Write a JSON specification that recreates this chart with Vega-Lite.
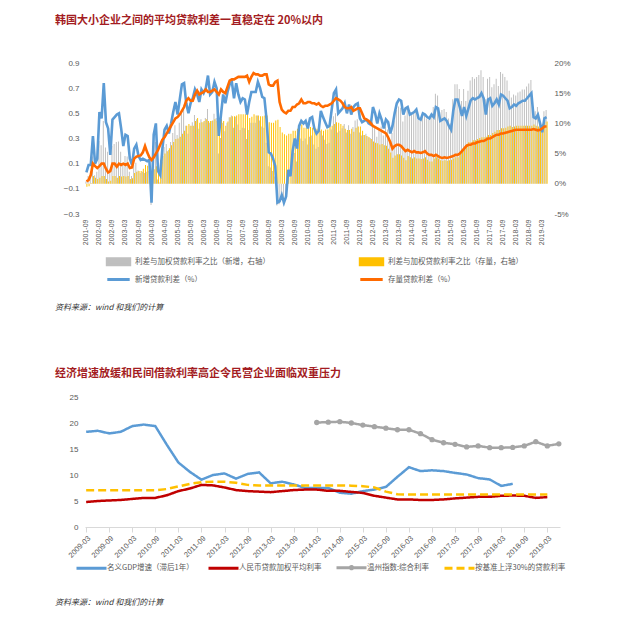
{
"$schema":"https://vega.github.io/schema/vega-lite/v6.json",
"background":"white",
"padding":{"left":55,"top":15,"right":5,"bottom":5},
"spacing":18,
"resolve":{"scale":{"color":"independent","strokeDash":"independent"},"legend":{"color":"independent","strokeDash":"independent"}},
"config":{
 "view":{"stroke":null},
 "font":"Noto Sans CJK SC",
 "axis":{"grid":false,"labelColor":"#595959","labelFont":"Liberation Sans","labelFontSize":8},
 "legend":{"layout":{"bottom":{"anchor":"middle"}}}
},
"title":{"text":"资料来源：wind 和我们的计算","orient":"bottom","anchor":"start","frame":"bounds","fontSize":8,"fontStyle":"italic","fontWeight":"normal","color":"#333333","offset":24,"font":"Noto Sans CJK SC"},
"vconcat":[
{
 "name":"p1",
 "width":463,"height":151,
 "title":{"text":"韩国大小企业之间的平均贷款利差一直稳定在 20%以内","anchor":"start","frame":"group","dx":-30,"offset":33,"fontSize":11,"fontWeight":"bold","color":"#A31C22","font":"Noto Sans CJK SC"},
 "data":{"values":[
{"d":"2001-09","b":0.03,"o":-0.04,"g":0.4,"s":-0.5},
{"d":"2001-10","b":0.09,"o":-0.03,"g":1.3,"s":-0.4},
{"d":"2001-11","b":0.09,"o":0.01,"g":1.3,"s":0.1},
{"d":"2001-12","b":0.32,"o":0.10,"g":4.5,"s":1.3},
{"d":"2002-01","b":0.10,"o":0.08,"g":1.4,"s":1.0},
{"d":"2002-02","b":0.14,"o":0.065,"g":2.0,"s":0.8},
{"d":"2002-03","b":0.51,"o":0.08,"g":7.1,"s":1.0},
{"d":"2002-04","b":0.46,"o":0.10,"g":6.4,"s":1.3},
{"d":"2002-05","b":0.74,"o":0.10,"g":10.4,"s":1.3},
{"d":"2002-06","b":0.43,"o":0.06,"g":6.0,"s":0.8},
{"d":"2002-07","b":0.38,"o":0.03,"g":5.3,"s":0.4},
{"d":"2002-08","b":0.17,"o":0.04,"g":2.4,"s":0.5},
{"d":"2002-09","b":0.45,"o":0.10,"g":6.3,"s":1.3},
{"d":"2002-10","b":0.47,"o":0.10,"g":6.6,"s":1.3},
{"d":"2002-11","b":0.49,"o":0.075,"g":6.9,"s":1.0},
{"d":"2002-12","b":0.50,"o":0.10,"g":7.0,"s":1.3},
{"d":"2003-01","b":0.38,"o":0.09,"g":5.3,"s":1.2},
{"d":"2003-02","b":0.24,"o":0.10,"g":3.4,"s":1.3},
{"d":"2003-03","b":0.33,"o":0.09,"g":4.6,"s":1.2},
{"d":"2003-04","b":0.32,"o":0.10,"g":4.5,"s":1.3},
{"d":"2003-05","b":0.14,"o":0.065,"g":2.0,"s":0.8},
{"d":"2003-06","b":0.09,"o":0.07,"g":1.3,"s":0.9},
{"d":"2003-07","b":0.22,"o":0.14,"g":3.1,"s":1.8},
{"d":"2003-08","b":0.25,"o":0.155,"g":3.5,"s":2.0},
{"d":"2003-09","b":0.16,"o":0.16,"g":2.2,"s":2.1},
{"d":"2003-10","b":0.13,"o":0.165,"g":1.8,"s":2.1},
{"d":"2003-11","b":0.14,"o":0.19,"g":2.0,"s":2.5},
{"d":"2003-12","b":0.13,"o":0.24,"g":1.8,"s":3.1},
{"d":"2004-01","b":0.12,"o":0.19,"g":2.0,"s":3.0},
{"d":"2004-02","b":0.13,"o":0.15,"g":2.1,"s":2.4},
{"d":"2004-03","b":-0.21,"o":0.13,"g":-3.5,"s":2.1},
{"d":"2004-04","b":0.33,"o":0.15,"g":5.4,"s":2.4},
{"d":"2004-05","b":0.42,"o":0.18,"g":6.9,"s":2.9},
{"d":"2004-06","b":0.04,"o":0.21,"g":0.7,"s":3.4},
{"d":"2004-07","b":0.01,"o":0.25,"g":0.2,"s":4.0},
{"d":"2004-08","b":0.22,"o":0.29,"g":3.6,"s":4.6},
{"d":"2004-09","b":0.37,"o":0.31,"g":6.1,"s":5.0},
{"d":"2004-10","b":0.40,"o":0.34,"g":6.6,"s":5.4},
{"d":"2004-11","b":0.34,"o":0.37,"g":5.6,"s":5.9},
{"d":"2004-12","b":0.42,"o":0.40,"g":6.9,"s":6.4},
{"d":"2005-01","b":0.51,"o":0.43,"g":8.4,"s":6.9},
{"d":"2005-02","b":0.59,"o":0.46,"g":9.7,"s":7.4},
{"d":"2005-03","b":0.49,"o":0.47,"g":8.1,"s":7.5},
{"d":"2005-04","b":0.61,"o":0.49,"g":10.1,"s":7.8},
{"d":"2005-05","b":0.73,"o":0.52,"g":12.0,"s":8.3},
{"d":"2005-06","b":0.74,"o":0.55,"g":12.2,"s":8.8},
{"d":"2005-07","b":0.58,"o":0.60,"g":9.6,"s":9.6},
{"d":"2005-08","b":0.50,"o":0.62,"g":8.3,"s":9.9},
{"d":"2005-09","b":0.58,"o":0.60,"g":9.6,"s":9.6},
{"d":"2005-10","b":0.62,"o":0.60,"g":10.2,"s":9.6},
{"d":"2005-11","b":0.69,"o":0.65,"g":11.4,"s":10.4},
{"d":"2005-12","b":0.65,"o":0.68,"g":10.7,"s":10.9},
{"d":"2006-01","b":0.59,"o":0.65,"g":9.1,"s":10.1},
{"d":"2006-02","b":0.69,"o":0.66,"g":10.7,"s":10.2},
{"d":"2006-03","b":0.66,"o":0.67,"g":10.2,"s":10.4},
{"d":"2006-04","b":0.70,"o":0.69,"g":10.9,"s":10.7},
{"d":"2006-05","b":0.80,"o":0.67,"g":12.4,"s":10.4},
{"d":"2006-06","b":0.65,"o":0.67,"g":10.1,"s":10.4},
{"d":"2006-07","b":0.67,"o":0.68,"g":10.4,"s":10.5},
{"d":"2006-08","b":0.75,"o":0.69,"g":11.6,"s":10.7},
{"d":"2006-09","b":0.70,"o":0.67,"g":10.9,"s":10.4},
{"d":"2006-10","b":0.32,"o":0.65,"g":5.0,"s":10.1},
{"d":"2006-11","b":0.49,"o":0.69,"g":7.6,"s":10.7},
{"d":"2006-12","b":0.65,"o":0.67,"g":10.1,"s":10.4},
{"d":"2007-01","b":0.58,"o":0.66,"g":8.7,"s":9.6},
{"d":"2007-02","b":0.67,"o":0.71,"g":10.1,"s":10.3},
{"d":"2007-03","b":0.73,"o":0.76,"g":11.0,"s":11.0},
{"d":"2007-04","b":0.75,"o":0.77,"g":11.3,"s":11.2},
{"d":"2007-05","b":0.62,"o":0.77,"g":9.3,"s":11.2},
{"d":"2007-06","b":0.74,"o":0.78,"g":11.1,"s":11.3},
{"d":"2007-07","b":0.65,"o":0.79,"g":9.8,"s":11.5},
{"d":"2007-08","b":0.59,"o":0.79,"g":8.9,"s":11.5},
{"d":"2007-09","b":0.62,"o":0.79,"g":9.3,"s":11.5},
{"d":"2007-10","b":0.61,"o":0.79,"g":9.2,"s":11.5},
{"d":"2007-11","b":0.49,"o":0.80,"g":7.4,"s":11.6},
{"d":"2007-12","b":0.59,"o":0.75,"g":8.9,"s":10.9},
{"d":"2008-01","b":0.67,"o":0.79,"g":10.1,"s":11.1},
{"d":"2008-02","b":0.67,"o":0.82,"g":10.1,"s":11.5},
{"d":"2008-03","b":0.67,"o":0.81,"g":10.1,"s":11.3},
{"d":"2008-04","b":0.75,"o":0.81,"g":11.3,"s":11.3},
{"d":"2008-05","b":0.70,"o":0.80,"g":10.5,"s":11.2},
{"d":"2008-06","b":0.63,"o":0.80,"g":9.5,"s":11.2},
{"d":"2008-07","b":0.62,"o":0.81,"g":9.3,"s":11.3},
{"d":"2008-08","b":0.45,"o":0.81,"g":6.8,"s":11.3},
{"d":"2008-09","b":0.19,"o":0.73,"g":2.9,"s":10.2},
{"d":"2008-10","b":0.18,"o":0.72,"g":2.7,"s":10.1},
{"d":"2008-11","b":0.14,"o":0.72,"g":2.1,"s":10.1},
{"d":"2008-12","b":0.08,"o":0.75,"g":1.2,"s":10.5},
{"d":"2009-01","b":-0.21,"o":0.76,"g":-3.6,"s":10.6},
{"d":"2009-02","b":-0.20,"o":0.59,"g":-3.4,"s":9.4},
{"d":"2009-03","b":-0.15,"o":0.53,"g":-2.6,"s":8.5},
{"d":"2009-04","b":-0.21,"o":0.51,"g":-3.6,"s":8.2},
{"d":"2009-05","b":-0.16,"o":0.50,"g":-2.7,"s":8.0},
{"d":"2009-06","b":0.05,"o":0.52,"g":0.9,"s":8.3},
{"d":"2009-07","b":0.00,"o":0.52,"g":0.0,"s":8.3},
{"d":"2009-08","b":0.20,"o":0.55,"g":3.4,"s":8.8},
{"d":"2009-09","b":0.30,"o":0.55,"g":5.1,"s":8.8},
{"d":"2009-10","b":0.22,"o":0.57,"g":3.7,"s":9.1},
{"d":"2009-11","b":0.40,"o":0.58,"g":6.8,"s":9.3},
{"d":"2009-12","b":0.44,"o":0.61,"g":7.5,"s":9.8},
{"d":"2010-01","b":0.42,"o":0.58,"g":7.1,"s":9.3},
{"d":"2010-02","b":0.44,"o":0.58,"g":7.5,"s":9.3},
{"d":"2010-03","b":0.38,"o":0.59,"g":6.5,"s":9.4},
{"d":"2010-04","b":0.46,"o":0.59,"g":7.8,"s":9.4},
{"d":"2010-05","b":0.47,"o":0.58,"g":8.0,"s":9.3},
{"d":"2010-06","b":0.38,"o":0.58,"g":6.5,"s":9.3},
{"d":"2010-07","b":0.34,"o":0.57,"g":5.8,"s":9.1},
{"d":"2010-08","b":0.36,"o":0.58,"g":6.1,"s":9.3},
{"d":"2010-09","b":0.52,"o":0.56,"g":8.8,"s":9.0},
{"d":"2010-10","b":0.47,"o":0.55,"g":8.0,"s":8.8},
{"d":"2010-11","b":0.43,"o":0.56,"g":7.3,"s":9.0},
{"d":"2010-12","b":0.39,"o":0.56,"g":6.6,"s":9.0},
{"d":"2011-01","b":0.40,"o":0.57,"g":6.8,"s":9.4},
{"d":"2011-02","b":0.53,"o":0.58,"g":9.0,"s":9.6},
{"d":"2011-03","b":0.66,"o":0.60,"g":11.2,"s":9.9},
{"d":"2011-04","b":0.69,"o":0.62,"g":11.7,"s":10.2},
{"d":"2011-05","b":0.50,"o":0.61,"g":8.5,"s":10.1},
{"d":"2011-06","b":0.52,"o":0.60,"g":8.8,"s":9.9},
{"d":"2011-07","b":0.54,"o":0.58,"g":9.2,"s":9.6},
{"d":"2011-08","b":0.58,"o":0.55,"g":9.9,"s":9.1},
{"d":"2011-09","b":0.50,"o":0.54,"g":8.5,"s":8.9},
{"d":"2011-10","b":0.57,"o":0.54,"g":9.7,"s":8.9},
{"d":"2011-11","b":0.49,"o":0.55,"g":8.3,"s":9.1},
{"d":"2011-12","b":0.55,"o":0.52,"g":9.4,"s":8.6},
{"d":"2012-01","b":0.57,"o":0.53,"g":10.5,"s":9.3},
{"d":"2012-02","b":0.58,"o":0.54,"g":10.7,"s":9.5},
{"d":"2012-03","b":0.46,"o":0.54,"g":8.5,"s":9.5},
{"d":"2012-04","b":0.43,"o":0.50,"g":8.0,"s":8.8},
{"d":"2012-05","b":0.44,"o":0.46,"g":8.1,"s":8.1},
{"d":"2012-06","b":0.45,"o":0.45,"g":8.3,"s":7.9},
{"d":"2012-07","b":0.42,"o":0.44,"g":7.8,"s":7.7},
{"d":"2012-08","b":0.41,"o":0.42,"g":7.6,"s":7.4},
{"d":"2012-09","b":0.55,"o":0.40,"g":10.2,"s":7.0},
{"d":"2012-10","b":0.50,"o":0.39,"g":9.3,"s":6.8},
{"d":"2012-11","b":0.42,"o":0.38,"g":7.8,"s":6.7},
{"d":"2012-12","b":0.50,"o":0.37,"g":9.3,"s":6.5},
{"d":"2013-01","b":0.45,"o":0.36,"g":9.5,"s":6.6},
{"d":"2013-02","b":0.38,"o":0.35,"g":8.0,"s":6.4},
{"d":"2013-03","b":0.45,"o":0.34,"g":9.5,"s":6.3},
{"d":"2013-04","b":0.43,"o":0.31,"g":9.0,"s":5.8},
{"d":"2013-05","b":0.34,"o":0.27,"g":7.1,"s":5.2},
{"d":"2013-06","b":0.40,"o":0.22,"g":8.4,"s":4.3},
{"d":"2013-07","b":0.50,"o":0.24,"g":10.5,"s":4.7},
{"d":"2013-08","b":0.58,"o":0.25,"g":12.2,"s":4.9},
{"d":"2013-09","b":0.61,"o":0.25,"g":12.8,"s":4.9},
{"d":"2013-10","b":0.60,"o":0.24,"g":12.6,"s":4.7},
{"d":"2013-11","b":0.49,"o":0.22,"g":10.3,"s":4.3},
{"d":"2013-12","b":0.54,"o":0.20,"g":11.3,"s":3.9},
{"d":"2014-01","b":0.55,"o":0.21,"g":12.7,"s":4.6},
{"d":"2014-02","b":0.49,"o":0.20,"g":11.3,"s":4.4},
{"d":"2014-03","b":0.50,"o":0.19,"g":11.5,"s":4.2},
{"d":"2014-04","b":0.51,"o":0.20,"g":11.7,"s":4.4},
{"d":"2014-05","b":0.53,"o":0.19,"g":12.2,"s":4.2},
{"d":"2014-06","b":0.46,"o":0.19,"g":10.6,"s":4.2},
{"d":"2014-07","b":0.45,"o":0.185,"g":10.4,"s":4.1},
{"d":"2014-08","b":0.50,"o":0.19,"g":11.5,"s":4.2},
{"d":"2014-09","b":0.49,"o":0.20,"g":11.3,"s":4.4},
{"d":"2014-10","b":0.47,"o":0.18,"g":10.8,"s":4.0},
{"d":"2014-11","b":0.46,"o":0.17,"g":10.6,"s":3.7},
{"d":"2014-12","b":0.49,"o":0.17,"g":11.3,"s":3.7},
{"d":"2015-01","b":0.47,"o":0.16,"g":12.7,"s":4.2},
{"d":"2015-02","b":0.55,"o":0.17,"g":14.9,"s":4.4},
{"d":"2015-03","b":0.54,"o":0.16,"g":14.6,"s":4.2},
{"d":"2015-04","b":0.44,"o":0.15,"g":11.9,"s":3.9},
{"d":"2015-05","b":0.45,"o":0.145,"g":12.2,"s":3.8},
{"d":"2015-06","b":0.46,"o":0.15,"g":12.4,"s":3.9},
{"d":"2015-07","b":0.44,"o":0.145,"g":11.9,"s":3.8},
{"d":"2015-08","b":0.40,"o":0.15,"g":10.8,"s":3.9},
{"d":"2015-09","b":0.37,"o":0.155,"g":10.0,"s":4.0},
{"d":"2015-10","b":0.52,"o":0.16,"g":14.0,"s":4.2},
{"d":"2015-11","b":0.61,"o":0.17,"g":16.5,"s":4.4},
{"d":"2015-12","b":0.61,"o":0.17,"g":16.5,"s":4.4},
{"d":"2016-01","b":0.55,"o":0.18,"g":15.7,"s":5.0},
{"d":"2016-02","b":0.48,"o":0.20,"g":13.7,"s":5.5},
{"d":"2016-03","b":0.55,"o":0.22,"g":15.7,"s":6.1},
{"d":"2016-04","b":0.48,"o":0.24,"g":13.7,"s":6.6},
{"d":"2016-05","b":0.54,"o":0.25,"g":15.4,"s":6.9},
{"d":"2016-06","b":0.60,"o":0.25,"g":17.1,"s":6.9},
{"d":"2016-07","b":0.62,"o":0.26,"g":17.7,"s":7.2},
{"d":"2016-08","b":0.61,"o":0.26,"g":17.4,"s":7.2},
{"d":"2016-09","b":0.62,"o":0.27,"g":17.7,"s":7.4},
{"d":"2016-10","b":0.63,"o":0.275,"g":18.0,"s":7.6},
{"d":"2016-11","b":0.66,"o":0.28,"g":18.8,"s":7.7},
{"d":"2016-12","b":0.62,"o":0.28,"g":17.7,"s":7.7},
{"d":"2017-01","b":0.49,"o":0.29,"g":14.0,"s":7.8},
{"d":"2017-02","b":0.61,"o":0.30,"g":17.4,"s":8.1},
{"d":"2017-03","b":0.62,"o":0.30,"g":17.7,"s":8.1},
{"d":"2017-04","b":0.56,"o":0.31,"g":16.0,"s":8.4},
{"d":"2017-05","b":0.58,"o":0.32,"g":16.5,"s":8.6},
{"d":"2017-06","b":0.61,"o":0.33,"g":17.4,"s":8.9},
{"d":"2017-07","b":0.57,"o":0.33,"g":16.2,"s":8.9},
{"d":"2017-08","b":0.65,"o":0.34,"g":18.5,"s":9.2},
{"d":"2017-09","b":0.64,"o":0.34,"g":18.2,"s":9.2},
{"d":"2017-10","b":0.62,"o":0.345,"g":17.7,"s":9.3},
{"d":"2017-11","b":0.60,"o":0.35,"g":17.1,"s":9.5},
{"d":"2017-12","b":0.54,"o":0.355,"g":15.4,"s":9.6},
{"d":"2018-01","b":0.55,"o":0.36,"g":14.3,"s":9.4},
{"d":"2018-02","b":0.57,"o":0.365,"g":14.8,"s":9.5},
{"d":"2018-03","b":0.56,"o":0.37,"g":14.6,"s":9.6},
{"d":"2018-04","b":0.58,"o":0.37,"g":15.1,"s":9.6},
{"d":"2018-05","b":0.59,"o":0.37,"g":15.3,"s":9.6},
{"d":"2018-06","b":0.60,"o":0.37,"g":15.6,"s":9.6},
{"d":"2018-07","b":0.60,"o":0.37,"g":15.6,"s":9.6},
{"d":"2018-08","b":0.62,"o":0.37,"g":16.1,"s":9.6},
{"d":"2018-09","b":0.64,"o":0.37,"g":16.6,"s":9.6},
{"d":"2018-10","b":0.66,"o":0.37,"g":17.2,"s":9.6},
{"d":"2018-11","b":0.47,"o":0.375,"g":12.2,"s":9.8},
{"d":"2018-12","b":0.46,"o":0.37,"g":12.0,"s":9.6},
{"d":"2019-01","b":0.49,"o":0.365,"g":12.7,"s":9.5},
{"d":"2019-02","b":0.42,"o":0.37,"g":10.9,"s":9.6},
{"d":"2019-03","b":0.35,"o":0.38,"g":9.1,"s":9.9},
{"d":"2019-04","b":0.46,"o":0.395,"g":12.0,"s":10.3},
{"d":"2019-05","b":0.47,"o":0.395,"g":12.2,"s":10.3}
 ]},
 "encoding":{"x":{"field":"d","type":"ordinal","scale":{"paddingInner":0.1,"paddingOuter":0.2},
   "axis":{"title":null,"values":["2001-09","2002-03","2002-09","2003-03","2003-09","2004-03","2004-09","2005-03","2005-09","2006-03","2006-09","2007-03","2007-09","2008-03","2008-09","2009-03","2009-09","2010-03","2010-09","2011-03","2011-09","2012-03","2012-09","2013-03","2013-09","2014-03","2014-09","2015-03","2015-09","2016-03","2016-09","2017-03","2017-09","2018-03","2018-09","2019-03"],
   "labelAngle":-90,"labelFontSize":7,"domain":false,"ticks":false,"labelPadding":5,"labelOverlap":false}}},
 "resolve":{"scale":{"y":"independent"}},
 "layer":[
  {"transform":[{"fold":["g","s"],"as":["k","v"]}],
   "mark":{"type":"bar"},
   "encoding":{
    "xOffset":{"field":"k","type":"nominal","scale":{"domain":["g","s"],"paddingInner":0}},
    "y":{"field":"v","type":"quantitative","scale":{"domain":[-5,20],"nice":false,"zero":false},
      "axis":{"orient":"right","title":null,"values":[-5,0,5,10,15,20],"labelExpr":"datum.value + '%'","domain":false,"ticks":false,"labelPadding":6,"labelOverlap":false}},
    "color":{"field":"k","type":"nominal","scale":{"domain":["g","s","b","o"],"range":["#BFBFBF","#FFC000","#5B9BD5","#FF6A00"]},
      "legend":{"title":null,"orient":"bottom","direction":"horizontal","columns":2,"columnPadding":84,"rowPadding":-2,"symbolSize":196,"labelFontSize":7.5,"labelColor":"#595959","labelFont":"Noto Sans CJK SC","labelOffset":8,"offset":8,"labelLimit":300,
       "labelExpr":"datum.value=='g' ? '利差与加权贷款利率之比（新增，右轴）' : datum.value=='s' ? '利差与加权贷款利率之比（存量，右轴）' : datum.value=='b' ? '新增贷款利差（%）' : '存量贷款利差（%）'",
       "encode":{"symbols":{"update":{
         "shape":{"signal":"(datum.value=='g'||datum.value=='s') ? 'M-1.6,-0.42H1.6V0.42H-1.6Z' : 'M-1.6,0H1.6'"},
         "fill":{"signal":"datum.value=='g' ? '#BFBFBF' : datum.value=='s' ? '#FFC000' : 'transparent'"},
         "stroke":{"signal":"datum.value=='b' ? '#5B9BD5' : datum.value=='o' ? '#FF6A00' : 'transparent'"},
         "strokeWidth":{"value":3}}}}}}
   }},
  {"layer":[
    {"mark":{"type":"line","strokeWidth":2.6},
     "encoding":{"y":{"field":"b","type":"quantitative","scale":{"domain":[-0.3,0.9],"nice":false,"zero":false},
       "axis":{"orient":"left","title":null,"values":[-0.3,-0.1,0.1,0.3,0.5,0.7,0.9],"format":".1f","domain":false,"ticks":false,"labelPadding":6,"labelOverlap":false}},
       "color":{"datum":"b"}}},
    {"mark":{"type":"line","strokeWidth":2.6},
     "encoding":{"y":{"field":"o","type":"quantitative","scale":{"domain":[-0.3,0.9],"nice":false,"zero":false},
       "axis":{"orient":"left","title":null,"values":[-0.3,-0.1,0.1,0.3,0.5,0.7,0.9],"format":".1f","domain":false,"ticks":false,"labelPadding":6,"labelOverlap":false}},
       "color":{"datum":"o"}}}
  ]}
 ]
},
{
 "name":"p2",
 "width":475,"height":130,
 "title":{"text":"资料来源：wind 和我们的计算","subtitle":"经济增速放缓和民间借款利率高企令民营企业面临双重压力","anchor":"start","frame":"group","dx":-30,"offset":14,"fontSize":8,"fontStyle":"italic","fontWeight":"normal","color":"#333333","font":"Noto Sans CJK SC","subtitleFontSize":11,"subtitleFontWeight":"bold","subtitleColor":"#A31C22","subtitlePadding":56,"subtitleFont":"Noto Sans CJK SC"},
 "data":{"values":[
{"q":"2009-03","gdp":18.3,"r":4.8,"y":7.05},
{"q":"2009-06","gdp":18.5,"r":5.0,"y":7.05},
{"q":"2009-09","gdp":18.0,"r":5.1,"y":7.05},
{"q":"2009-12","gdp":18.3,"r":5.2,"y":7.05},
{"q":"2010-03","gdp":19.4,"r":5.4,"y":7.05},
{"q":"2010-06","gdp":19.7,"r":5.6,"y":7.05},
{"q":"2010-09","gdp":19.4,"r":5.6,"y":7.05},
{"q":"2010-12","gdp":15.8,"r":6.1,"y":7.3},
{"q":"2011-03","gdp":12.4,"r":6.9,"y":7.8},
{"q":"2011-06","gdp":10.6,"r":7.4,"y":8.3},
{"q":"2011-09","gdp":9.1,"r":8.1,"y":8.6},
{"q":"2011-12","gdp":10.0,"r":8.0,"y":8.7},
{"q":"2012-03","gdp":10.3,"r":7.6,"y":8.7},
{"q":"2012-06","gdp":9.3,"r":7.1,"y":8.5},
{"q":"2012-09","gdp":10.2,"r":6.9,"y":8.1},
{"q":"2012-12","gdp":10.5,"r":6.8,"y":8.0},
{"q":"2013-03","gdp":8.4,"r":6.7,"y":8.0},
{"q":"2013-06","gdp":8.7,"r":6.9,"y":8.0},
{"q":"2013-09","gdp":8.2,"r":7.1,"y":8.0},
{"q":"2013-12","gdp":7.5,"r":7.2,"y":8.0},
{"q":"2014-03","gdp":7.5,"r":7.2,"w":20.1,"y":8.0},
{"q":"2014-06","gdp":7.5,"r":6.95,"w":20.15,"y":8.0},
{"q":"2014-09","gdp":6.6,"r":6.95,"w":20.25,"y":8.0},
{"q":"2014-12","gdp":6.4,"r":6.75,"w":20.0,"y":7.95},
{"q":"2015-03","gdp":6.9,"r":6.55,"w":19.6,"y":7.85},
{"q":"2015-06","gdp":7.2,"r":6.0,"w":19.3,"y":7.6},
{"q":"2015-09","gdp":7.7,"r":5.65,"w":19.0,"y":6.8},
{"q":"2015-12","gdp":9.65,"r":5.3,"w":18.7,"y":6.3},
{"q":"2016-03","gdp":11.5,"r":5.3,"w":18.7,"y":6.25},
{"q":"2016-06","gdp":10.75,"r":5.2,"w":17.95,"y":6.25},
{"q":"2016-09","gdp":10.9,"r":5.2,"w":16.8,"y":6.25},
{"q":"2016-12","gdp":10.75,"r":5.3,"w":16.2,"y":6.25},
{"q":"2017-03","gdp":10.4,"r":5.5,"w":15.9,"y":6.25},
{"q":"2017-06","gdp":10.1,"r":5.65,"w":15.4,"y":6.25},
{"q":"2017-09","gdp":9.4,"r":5.8,"w":15.6,"y":6.25},
{"q":"2017-12","gdp":9.15,"r":5.8,"w":15.25,"y":6.25},
{"q":"2018-03","gdp":7.9,"r":6.0,"w":15.25,"y":6.25},
{"q":"2018-06","gdp":8.3,"r":6.05,"w":15.3,"y":6.25},
{"q":"2018-09","r":6.0,"w":15.6,"y":6.25},
{"q":"2018-12","r":5.6,"w":16.4,"y":6.25},
{"q":"2019-03","r":5.75,"w":15.6,"y":6.25},
{"q":"2019-06","w":16.0}
 ]},
 "transform":[{"fold":["gdp","r","w","y"],"as":["k","v"]},{"filter":"isValid(datum.v)"}],
 "encoding":{
  "x":{"field":"q","type":"ordinal","scale":{"type":"point","padding":0.1},
   "axis":{"title":null,"values":["2009-03","2009-09","2010-03","2010-09","2011-03","2011-09","2012-03","2012-09","2013-03","2013-09","2014-03","2014-09","2015-03","2015-09","2016-03","2016-09","2017-03","2017-09","2018-03","2018-09","2019-03"],
   "labelAngle":-45,"labelFontSize":7.5,"domainColor":"#D9D9D9","tickColor":"#D9D9D9","tickSize":5,"labelPadding":2,"labelOverlap":false}},
  "y":{"field":"v","type":"quantitative","scale":{"domain":[0,25],"nice":false},
   "axis":{"title":null,"values":[0,5,10,15,20,25],"format":"d","labelExpr":"datum.value == 0 ? '0' : datum.label","domain":false,"ticks":false,"labelPadding":7,"labelOverlap":false,"labelFlush":false,"labelBound":false,"zindex":2}}
 },
 "layer":[
  {"mark":{"type":"line","strokeWidth":2.5},
   "encoding":{
    "color":{"field":"k","type":"nominal","scale":{"domain":["gdp","r","w","y"],"range":["#5B9BD5","#C00000","#A5A5A5","#FFC000"]},
     "legend":{"title":null,"orient":"bottom","direction":"horizontal","columnPadding":8,"symbolSize":400,"labelFontSize":7.5,"labelColor":"#595959","labelFont":"Noto Sans CJK SC","labelOffset":4,"offset":-3,"labelLimit":300,
      "labelExpr":"datum.value=='gdp' ? '名义GDP增速（滞后1年）' : datum.value=='r' ? '人民币贷款加权平均利率' : datum.value=='w' ? '温州指数:综合利率' : '按基准上浮30%的贷款利率'",
      "encode":{"symbols":{"update":{
        "shape":{"signal":"datum.value=='w' ? 'M-1.5,0H1.5M-0.12,0A0.12,0.12 0 1,0 0.12,0A0.12,0.12 0 1,0 -0.12,0' : 'M-1.5,0H1.5'"},
        "fill":{"value":"transparent"},
        "strokeDash":{"signal":"datum.value=='y' ? [8,5] : [1,0]"},
        "strokeWidth":{"value":3}}}}}},
    "strokeDash":{"field":"k","type":"nominal","scale":{"domain":["gdp","r","w","y"],"range":[[1,0],[1,0],[1,0],[8,4]]},"legend":null}
   }},
  {"transform":[{"filter":"datum.k=='w'"}],
   "mark":{"type":"point","filled":true,"size":28,"opacity":1,"color":"#A5A5A5"}}
 ]
}
]
}
